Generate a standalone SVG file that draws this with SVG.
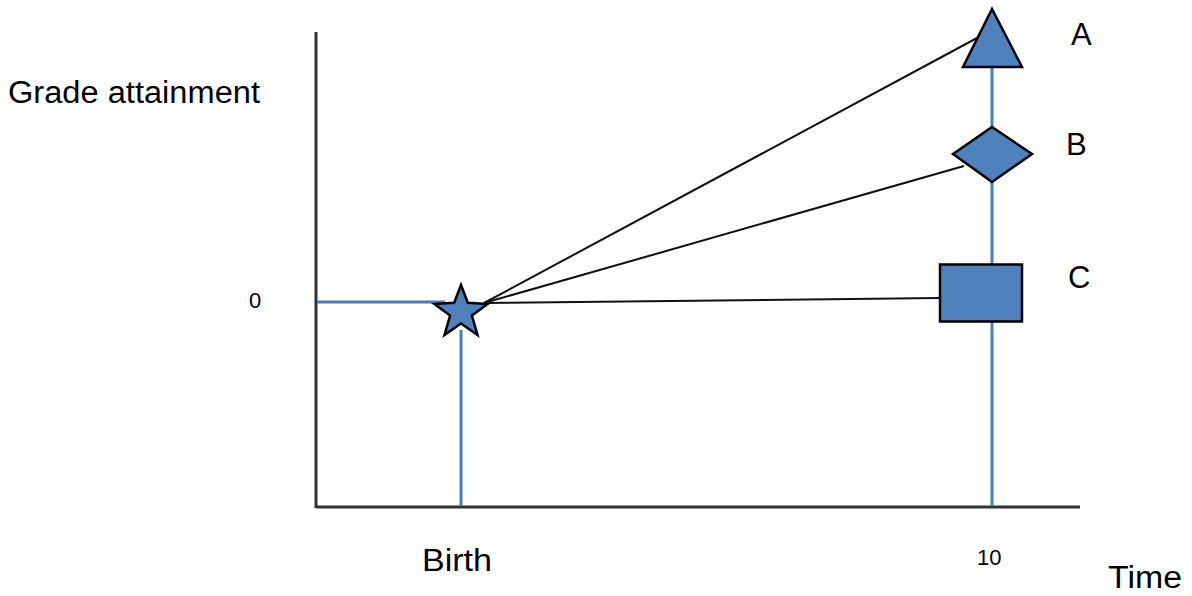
<svg xmlns="http://www.w3.org/2000/svg" width="1192" height="596" viewBox="0 0 1192 596">
<style>
.lbl{font-family:"Liberation Sans",Arial,sans-serif;fill:#000}
.big{font-size:31px}
.small{font-size:22px}
.axis{stroke:#333;stroke-width:3;fill:none}
.guide{stroke:#4A7EBB;stroke-width:3;fill:none}
.conn{stroke:#111;stroke-width:2;fill:none}
.shape{fill:#4F81BD;stroke:#000;stroke-width:2.5;stroke-linejoin:miter}
</style>
<rect width="1192" height="596" fill="#fff"/>
<g id="axes">
<line class="axis" x1="316" y1="32" x2="316" y2="508"/>
<line class="axis" x1="316" y1="507" x2="1080" y2="507"/>
</g>
<g id="guides">
<line class="guide" x1="317" y1="302" x2="445" y2="302"/>
<line class="guide" x1="461" y1="330" x2="461" y2="506"/>
<line class="guide" x1="992" y1="60" x2="992" y2="506"/>
</g>
<g id="connectors">
<line class="conn" x1="484" y1="303" x2="977" y2="38"/>
<line class="conn" x1="484" y1="303" x2="964" y2="166"/>
<line class="conn" x1="484" y1="303" x2="940" y2="298"/>
</g>
<g id="star">
<polygon class="shape" stroke-width="2" points="461,285 467.8,302.7 487.6,304 471.9,315.6 477.5,335 461,323.5 444.5,335 450.1,315.6 434.4,304 454.2,302.7"/>
</g>
<g id="nodeA">
<polygon class="shape" points="992,9 1022,67 963,67"/>
<text class="lbl big" x="1071" y="45">A</text>
</g>
<g id="nodeB">
<polygon class="shape" points="992,127 1032,154 992,182 953,154"/>
<text class="lbl big" x="1066" y="155">B</text>
</g>
<g id="nodeC">
<rect class="shape" x="940" y="264.5" width="82" height="57"/>
<text class="lbl big" x="1068" y="288">C</text>
</g>
<g id="labels">
<text class="lbl big" x="8" y="103" textLength="252" lengthAdjust="spacingAndGlyphs">Grade attainment</text>
<text class="lbl small" x="249" y="308">0</text>
<text class="lbl big" x="422" y="571" textLength="70" lengthAdjust="spacingAndGlyphs">Birth</text>
<text class="lbl small" x="977" y="565">10</text>
<text class="lbl big" x="1108" y="588" textLength="74" lengthAdjust="spacingAndGlyphs">Time</text>
</g>
</svg>
